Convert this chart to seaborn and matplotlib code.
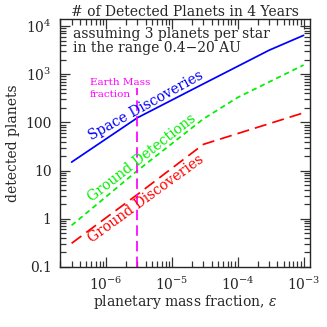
import numpy as np
import pandas as pd
import matplotlib
matplotlib.use("Agg")
import matplotlib.pyplot as plt
from matplotlib.ticker import FixedLocator, FixedFormatter, LogLocator, NullFormatter
import seaborn as sns

# ── data ────────────────────────────────────────────────────
space_eps = [3e-7, 3e-6, 3e-5, 3e-4, 1e-3]
space_n   = [15, 125, 630, 3150, 6400]

gdet_eps = [3e-7, 3e-6, 3e-5, 1e-4, 1e-3]
gdet_n   = [0.73, 10, 118, 330, 1550]

gdisc_eps = [3e-7, 3e-6, 3e-5, 1e-3]
gdisc_n   = [0.31, 3.2, 35, 158]

earth_eps = [3e-6, 3e-6]
earth_n   = [0.1, 520]

xticks = [1e-6, 1e-5, 1e-4, 1e-3]
xticklabels = [r"$10^{-6}$", r"$10^{-5}$", r"$10^{-4}$", r"$10^{-3}$"]
yticks = [0.1, 1, 10, 100, 1e3, 1e4]
yticklabels = ["0.1", "1", "10", "100", r"$10^{3}$", r"$10^{4}$"]

sns.set_style("ticks")
plt.rcParams["font.family"] = ["DejaVu Serif"]
plt.rcParams["mathtext.fontset"] = "dejavuserif"
plt.rcParams["font.size"] = 10

fig = plt.figure(figsize=(3.27, 3.27), dpi=100)
ax = fig.add_axes([0.1835, 0.1835, 0.7645, 0.7585])

series = [
    (space_eps, space_n, "#0000ff", None),
    (gdet_eps, gdet_n, "#00f000", [3, 2.2]),
    (gdisc_eps, gdisc_n, "#ff0000", [7, 3.5]),
    (earth_eps, earth_n, "#ff00ff", [6, 3]),
]
for xs, ys, col, dash in series:
    df = pd.DataFrame({"eps": xs, "n": ys})
    sns.lineplot(data=df, x="eps", y="n", color=col, lw=1.25, ax=ax,
                 estimator=None, sort=False)
    if dash:
        ax.lines[-1].set_dashes(dash)

ax.set_xscale("log")
ax.set_yscale("log")
ax.set_xlim(2e-7, 1.25e-3)
ax.set_ylim(0.1, 1.4e4)

ax.xaxis.set_major_locator(FixedLocator(xticks))
ax.xaxis.set_major_formatter(FixedFormatter(xticklabels))
ax.yaxis.set_major_locator(FixedLocator(yticks))
ax.yaxis.set_major_formatter(FixedFormatter(yticklabels))
ax.xaxis.set_minor_locator(LogLocator(base=10, subs=np.arange(2, 10), numticks=30))
ax.yaxis.set_minor_locator(LogLocator(base=10, subs=np.arange(2, 10), numticks=30))
ax.xaxis.set_minor_formatter(NullFormatter())
ax.yaxis.set_minor_formatter(NullFormatter())
ax.tick_params(which="both", direction="in", top=True, right=True, width=0.9,
               color="#333333")
ax.tick_params(which="major", length=7.5, labelsize=10, pad=6)
ax.tick_params(which="minor", length=4)
for s in ax.spines.values():
    s.set_linewidth(1.0)

ax.set_xlabel(r"planetary mass fraction, $\epsilon$", fontsize=10, labelpad=0)
ax.set_ylabel("detected planets", fontsize=10, labelpad=4)
ax.set_title("# of Detected Planets in 4 Years", fontsize=10, pad=2)

ax.text(0.052, 0.968, "assuming 3 planets per star\nin the range 0.4\u221220 AU",
        transform=ax.transAxes, ha="left", va="top", fontsize=10, linespacing=1.0)
ax.text(0.12, 0.76, "Earth Mass\nfraction", transform=ax.transAxes,
        ha="left", va="top", fontsize=7.5, color="#ff00ff", linespacing=1.35)

ax.text(4e-6, 220, "Space Discoveries", color="#0000ff", fontsize=10,
        rotation=29, ha="center", va="center", rotation_mode="anchor")
ax.text(3.55e-6, 18, "Ground Detections", color="#00f000", fontsize=10,
        rotation=38, ha="center", va="center", rotation_mode="anchor")
ax.text(4.1e-6, 2.6, "Ground Discoveries", color="#ff0000", fontsize=10,
        rotation=36, ha="center", va="center", rotation_mode="anchor")

fig.savefig("out.png", dpi=100)
